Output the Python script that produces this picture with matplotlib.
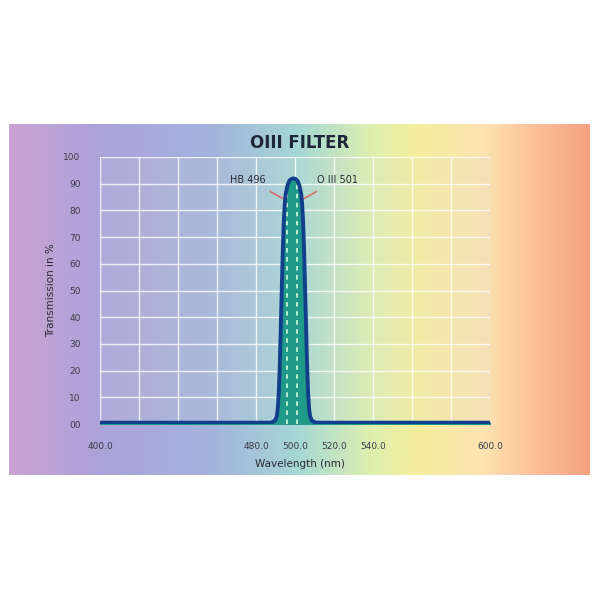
import numpy as np
import matplotlib
matplotlib.use("Agg")
import matplotlib.pyplot as plt
from matplotlib.colors import LinearSegmentedColormap

# datos
wavelength = [400, 487.7, 489.7, 490.7, 491.2, 491.7, 492.2, 492.7, 493.2, 493.7, 494.2,
              494.7, 495.2, 496.2, 497.2, 498.2, 499.2, 500.2, 501.2, 502.2, 503.2,
              503.7, 504.2, 504.7, 505.2, 505.7, 506.2, 506.7, 507.2, 507.7, 508.7,
              510.7, 600]
transmission = [0.5, 0.5, 1.2, 3, 6, 12, 22, 36, 50, 64, 75,
                82, 86, 89.5, 91.2, 91.8, 92, 91.8, 91.2, 89.5, 86,
                82, 75, 64, 50, 36, 22, 12, 6, 3, 1.2,
                0.5, 0.5]

lines_nm = [496, 501]
lines_top = [88, 90]
line_labels = ["HB 496", "O III 501"]

xticks = [400, 480, 500, 520, 540, 600]
xtick_labels = ["400.0", "480.0", "500.0", "520.0", "540.0", "600.0"]
yticks = list(range(0, 101, 10))
ytick_labels = ["00", "10", "20", "30", "40", "50", "60", "70", "80", "90", "100"]

# degradado del espectro (posición relativa en el panel, color)
spectrum_stops = [(0.0, "#cba2d2"), (0.15, "#aca3d9"), (0.35, "#a3b4dc"),
                  (0.5, "#a6d8d4"), (0.62, "#dcefb0"), (0.7, "#f5ef9e"),
                  (0.82, "#fde3b2"), (0.9, "#fcc29c"), (1.0, "#f6a283")]

fig = plt.figure(figsize=(6, 6), dpi=100)
fig.patch.set_facecolor("white")

# panel de fondo
bg = fig.add_axes([9 / 600, (600 - 475) / 600, 581 / 600, 351 / 600])
cmap = LinearSegmentedColormap.from_list("spec", spectrum_stops)
bg.imshow(np.linspace(0, 1, 512).reshape(1, -1), aspect="auto", cmap=cmap,
          extent=[0, 1, 0, 1])
bg.set_axis_off()

ax = fig.add_axes([100 / 600, (600 - 424) / 600, 390 / 600, 267 / 600])
ax.set_facecolor((0.85, 0.85, 0.85, 0.15))
ax.set_xlim(400, 600)
ax.set_ylim(0, 100)

ax.set_xticks(np.arange(400, 601, 20), minor=True)
ax.set_yticks(yticks)
ax.set_yticklabels(ytick_labels)
ax.set_xticks(xticks)
ax.set_xticklabels(xtick_labels)
ax.grid(True, which="both", color="white", linewidth=1.0, alpha=0.8)
ax.set_axisbelow(True)
ax.tick_params(which="both", length=0)
ax.tick_params(axis="x", pad=13, labelsize=6.5, labelcolor="#3c3c48")
ax.tick_params(axis="y", pad=14, labelsize=6.5, labelcolor="#3c3c48")
for s in ax.spines.values():
    s.set_visible(False)

ax.fill_between(wavelength, 0, transmission, color="#1f9a88", zorder=2)
ax.vlines(lines_nm, 0, lines_top, colors="#c8f2dc", linestyles=(0, (2.5, 2.5)),
          linewidth=1.3, zorder=3)
ax.plot(wavelength, transmission, color="#123f8c", linewidth=2.8,
        solid_joinstyle="round", solid_capstyle="butt", zorder=4)

# etiquetas de las líneas
ax.annotate(line_labels[0], xy=(495, 84), xytext=(476, 91.5), fontsize=7,
            color="#2a2a35", ha="center", va="center",
            arrowprops=dict(arrowstyle="-", color="#d8706a", lw=1.2,
                            shrinkA=6, shrinkB=0))
ax.annotate(line_labels[1], xy=(503.5, 84), xytext=(522, 91.5), fontsize=7,
            color="#2a2a35", ha="center", va="center",
            arrowprops=dict(arrowstyle="-", color="#d8706a", lw=1.2,
                            shrinkA=6, shrinkB=0))

fig.text(300 / 600, 1 - 143 / 600, "OIII FILTER", fontsize=12, color="#1e2838",
         ha="center", va="center", fontweight="semibold")
fig.text(300 / 600, 1 - 464 / 600, "Wavelength (nm)", fontsize=7.5, color="#2a2a35",
         ha="center", va="center")
fig.text(51 / 600, 1 - 290 / 600, "Transmission in %", fontsize=7.5, color="#2a2a35",
         ha="center", va="center", rotation=90)

fig.savefig("out.png", dpi=100)
